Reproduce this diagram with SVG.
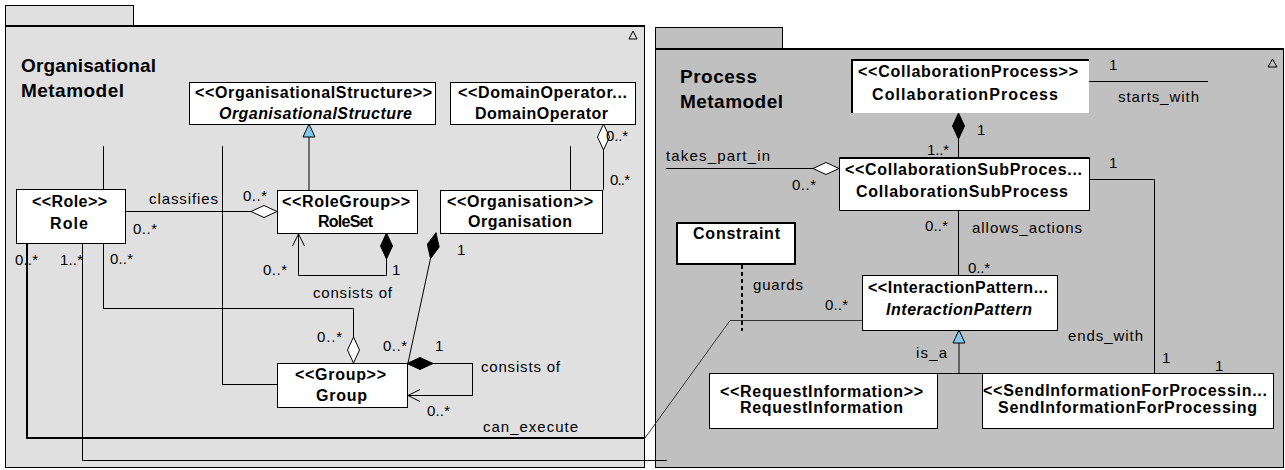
<svg xmlns="http://www.w3.org/2000/svg" width="1285" height="470" viewBox="0 0 1285 470">
<defs>
<style>
text{font-family:"Liberation Sans",Arial,Helvetica,sans-serif;fill:#000}
.title{font-size:19px;font-weight:bold}
.nt{font-size:16px;font-weight:bold}
.it{font-style:italic}
.lbl{font-size:15px}
.pkgL{fill:#e0e0e0;stroke:#000;stroke-width:1}
.pkgR{fill:#c0c0c0;stroke:#000;stroke-width:1}
.box{fill:#fff;stroke:#000;stroke-width:1}
.c{fill:none;stroke:#000;stroke-width:1}
.thick{fill:none;stroke:#000;stroke-width:2}
</style>
<marker id="dh" markerUnits="userSpaceOnUse" markerWidth="28" markerHeight="14" viewBox="-1 -1 28 14" refX="0" refY="6" orient="auto"><path d="M0,6 L13,0 L26,6 L13,12 Z" fill="#fff" stroke="#000"/></marker>
<marker id="df" markerUnits="userSpaceOnUse" markerWidth="28" markerHeight="14" viewBox="-1 -1 28 14" refX="0" refY="6" orient="auto"><path d="M0,6 L13,0 L26,6 L13,12 Z" fill="#000" stroke="#000"/></marker>
<marker id="tri" markerUnits="userSpaceOnUse" markerWidth="15" markerHeight="14" viewBox="-1 -1 15 14" refX="13" refY="6" orient="auto"><path d="M0,0 L13,6 L0,12 Z" fill="#80c8f0" stroke="#000"/></marker>
<marker id="oa" markerUnits="userSpaceOnUse" markerWidth="14" markerHeight="14" viewBox="-1 -1 14 14" refX="12" refY="6" orient="auto"><path d="M0,0 L12,6 L0,12" fill="none" stroke="#000"/></marker>
</defs>
<rect x="0" y="0" width="1285" height="470" fill="#fff"/>

<g id="pkg-organisational">
<rect class="pkgL" x="5.5" y="5.5" width="128" height="21"/>
<rect class="pkgL" x="5.5" y="26.5" width="639" height="441"/>
<path class="thick" d="M5,26 H645"/>
<path d="M629,39 L633,31 L637,39 Z" fill="none" stroke="#000"/>
<text class="title" x="21" y="72" textLength="135" lengthAdjust="spacing">Organisational</text>
<text class="title" x="21" y="97" textLength="103" lengthAdjust="spacing">Metamodel</text>
</g>

<g id="pkg-process">
<rect class="pkgR" x="655.5" y="27.5" width="127" height="22"/>
<rect class="pkgR" x="655.5" y="49.5" width="628" height="418"/>
<path class="thick" d="M655,49 H1284"/>
<path d="M1268,67 L1272.5,59 L1277,67 Z" fill="none" stroke="#000"/>
<text class="title" x="680" y="83" textLength="77" lengthAdjust="spacing">Process</text>
<text class="title" x="680" y="108" textLength="103" lengthAdjust="spacing">Metamodel</text>
</g>

<g id="connectors">
<path class="c" d="M309,190.5 V124" marker-end="url(#tri)"/>
<path class="c" d="M103.5,146 V189"/>
<path class="c" d="M353.5,363 V308.5 H103.5 V243" marker-start="url(#dh)"/>
<path class="c" d="M222.5,146 V384.5 H277"/>
<path class="c" d="M277,211.5 H125" marker-start="url(#dh)"/>
<path class="c" d="M386.5,233 V275.5 H298.5 V234" marker-start="url(#df)" marker-end="url(#oa)"/>
<path class="c" d="M436,233 L408,363" marker-start="url(#df)"/>
<path class="c" d="M407,363.5 H472.5 V395.5 H408" marker-start="url(#df)" marker-end="url(#oa)"/>
<path class="c" d="M603.5,124 V190" marker-start="url(#dh)"/>
<path class="c" d="M570.5,146 V190"/>
<path class="thick" d="M27,243 V438 H645"/>
<path d="M645,438 L730,320.5 H862" fill="none" stroke="#333" stroke-width="1"/>
<path class="c" d="M82.5,243 V460.5 H667"/>
<path d="M742,265 V331" fill="none" stroke="#000" stroke-width="2" stroke-dasharray="4,3"/>
<path class="c" d="M958.5,113 V157" marker-start="url(#df)"/>
<path class="c" d="M1089,81.5 H1208"/>
<path class="c" d="M839,168.5 H666" marker-start="url(#dh)"/>
<path class="c" d="M958.5,210 V275"/>
<path class="c" d="M1089,179.5 H1154.5 V373"/>
<path class="c" d="M959,373.5 V330" marker-end="url(#tri)"/>
<path class="c" d="M937,373.5 H982"/>

<text class="lbl" x="149" y="204" textLength="69" lengthAdjust="spacing">classifies</text>
<text class="lbl" x="243" y="201" textLength="24" lengthAdjust="spacing">0..*</text>
<text class="lbl" x="133" y="234" textLength="24" lengthAdjust="spacing">0..*</text>
<text class="lbl" x="15" y="265" textLength="23" lengthAdjust="spacing">0..*</text>
<text class="lbl" x="60" y="265" textLength="23" lengthAdjust="spacing">1..*</text>
<text class="lbl" x="110" y="264" textLength="23" lengthAdjust="spacing">0..*</text>
<text class="lbl" x="263" y="275" textLength="24" lengthAdjust="spacing">0..*</text>
<text class="lbl" x="392" y="275">1</text>
<text class="lbl" x="313" y="298" textLength="79" lengthAdjust="spacing">consists of</text>
<text class="lbl" x="317" y="342" textLength="25" lengthAdjust="spacing">0..*</text>
<text class="lbl" x="383" y="351" textLength="24" lengthAdjust="spacing">0..*</text>
<text class="lbl" x="435" y="351">1</text>
<text class="lbl" x="457" y="255">1</text>
<text class="lbl" x="481" y="372" textLength="79" lengthAdjust="spacing">consists of</text>
<text class="lbl" x="427" y="416" textLength="23" lengthAdjust="spacing">0..*</text>
<text class="lbl" x="483" y="432" textLength="95" lengthAdjust="spacing">can_execute</text>
<text class="lbl" x="606" y="141" textLength="22" lengthAdjust="spacing">0..*</text>
<text class="lbl" x="610" y="185" textLength="20" lengthAdjust="spacing">0..*</text>

<text class="lbl" x="1109" y="70">1</text>
<text class="lbl" x="1118" y="102" textLength="81" lengthAdjust="spacing">starts_with</text>
<text class="lbl" x="977" y="135">1</text>
<text class="lbl" x="927" y="155" textLength="22" lengthAdjust="spacing">1..*</text>
<text class="lbl" x="666" y="161" textLength="104" lengthAdjust="spacing">takes_part_in</text>
<text class="lbl" x="792" y="190" textLength="24" lengthAdjust="spacing">0..*</text>
<text class="lbl" x="925" y="231" textLength="23" lengthAdjust="spacing">0..*</text>
<text class="lbl" x="972" y="233" textLength="110" lengthAdjust="spacing">allows_actions</text>
<text class="lbl" x="968" y="273" textLength="22" lengthAdjust="spacing">0..*</text>
<text class="lbl" x="1109" y="168">1</text>
<text class="lbl" x="1068" y="341" textLength="75" lengthAdjust="spacing">ends_with</text>
<text class="lbl" x="1162" y="363">1</text>
<text class="lbl" x="1215" y="371">1</text>
<text class="lbl" x="753" y="290" textLength="50" lengthAdjust="spacing">guards</text>
<text class="lbl" x="825" y="310" textLength="23" lengthAdjust="spacing">0..*</text>
<text class="lbl" x="916" y="358" textLength="31" lengthAdjust="spacing">is_a</text>
</g>

<g id="node-organisationalstructure">
<rect class="box" x="189.5" y="82.5" width="246" height="42"/>
<text class="nt" x="195" y="98" textLength="237" lengthAdjust="spacing">&lt;&lt;OrganisationalStructure&gt;&gt;</text>
<text class="nt it" x="219" y="119" textLength="193" lengthAdjust="spacing">OrganisationalStructure</text>
</g>
<g id="node-domainoperator">
<rect class="box" x="450.5" y="82.5" width="185" height="42"/>
<text class="nt" x="458" y="98" textLength="169" lengthAdjust="spacing">&lt;&lt;DomainOperator...</text>
<text class="nt" x="475" y="119" textLength="133" lengthAdjust="spacing">DomainOperator</text>
</g>
<g id="node-role">
<rect class="box" x="16.5" y="189.5" width="109" height="54"/>
<text class="nt" x="32" y="207" textLength="75" lengthAdjust="spacing">&lt;&lt;Role&gt;&gt;</text>
<text class="nt" x="50" y="229" textLength="38" lengthAdjust="spacing">Role</text>
</g>
<g id="node-roleset">
<rect class="box" x="277.5" y="190.5" width="140" height="43"/>
<text class="nt" x="282" y="207" textLength="128" lengthAdjust="spacing">&lt;&lt;RoleGroup&gt;&gt;</text>
<text class="nt" x="318" y="227" textLength="55" lengthAdjust="spacing">RoleSet</text>
</g>
<g id="node-organisation">
<rect class="box" x="440.5" y="190.5" width="162" height="43"/>
<text class="nt" x="447" y="207" textLength="146" lengthAdjust="spacing">&lt;&lt;Organisation&gt;&gt;</text>
<text class="nt" x="468" y="227" textLength="104" lengthAdjust="spacing">Organisation</text>
</g>
<g id="node-group">
<rect class="box" x="277.5" y="363.5" width="130" height="44"/>
<text class="nt" x="295" y="380" textLength="91" lengthAdjust="spacing">&lt;&lt;Group&gt;&gt;</text>
<text class="nt" x="316" y="401" textLength="51" lengthAdjust="spacing">Group</text>
</g>

<g id="node-collaborationprocess">
<rect x="851" y="59" width="238" height="54" fill="#fff"/>
<path class="thick" d="M852,113 V60 H1089"/>
<text class="nt" x="858" y="77" textLength="220" lengthAdjust="spacing">&lt;&lt;CollaborationProcess&gt;&gt;</text>
<text class="nt" x="872" y="100" textLength="186" lengthAdjust="spacing">CollaborationProcess</text>
</g>
<g id="node-collaborationsubprocess">
<rect class="box" x="839.5" y="157.5" width="250" height="53"/>
<path class="thick" d="M839,158 H1090"/>
<text class="nt" x="845" y="175" textLength="237" lengthAdjust="spacing">&lt;&lt;CollaborationSubProces...</text>
<text class="nt" x="856" y="197" textLength="212" lengthAdjust="spacing">CollaborationSubProcess</text>
</g>
<g id="node-constraint">
<rect x="677" y="223" width="118" height="41" fill="#fff" stroke="#000" stroke-width="2"/>
<text class="nt" x="693" y="239" textLength="87" lengthAdjust="spacing">Constraint</text>
</g>
<g id="node-interactionpattern">
<rect class="box" x="862.5" y="275.5" width="195" height="55"/>
<text class="nt" x="868" y="293" textLength="180" lengthAdjust="spacing">&lt;&lt;InteractionPattern...</text>
<text class="nt it" x="886" y="315" textLength="146" lengthAdjust="spacing">InteractionPattern</text>
</g>
<g id="node-requestinformation">
<rect class="box" x="709.5" y="373.5" width="228" height="55"/>
<text class="nt" x="720" y="397" textLength="203" lengthAdjust="spacing">&lt;&lt;RequestInformation&gt;&gt;</text>
<text class="nt" x="740" y="413" textLength="163" lengthAdjust="spacing">RequestInformation</text>
</g>
<g id="node-sendinformationforprocessing">
<rect class="box" x="982.5" y="373.5" width="291" height="55"/>
<text class="nt" x="983" y="396" textLength="284" lengthAdjust="spacing">&lt;&lt;SendInformationForProcessin...</text>
<text class="nt" x="998" y="413" textLength="259" lengthAdjust="spacing">SendInformationForProcessing</text>
</g>
</svg>
